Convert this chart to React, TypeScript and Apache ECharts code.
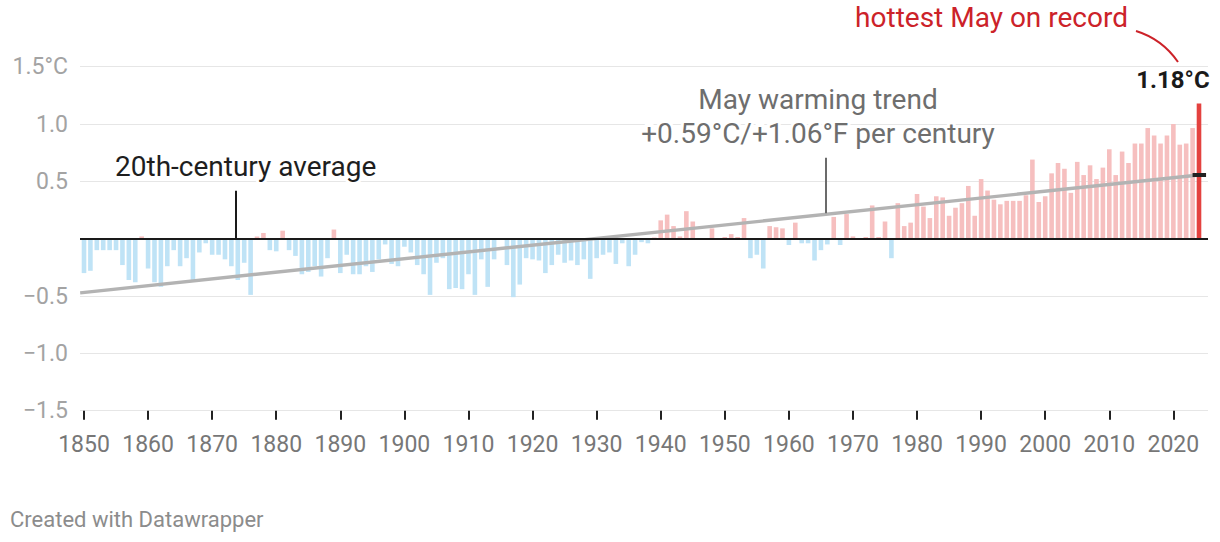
import React, { useEffect, useRef } from "react";
import * as echarts from "echarts";

// May temperature anomaly (°C vs 20th-century average), 1850–2024
const START_YEAR = 1850;
const anomalies: number[] = [
  // 1850s
  -0.30, -0.28, -0.10, -0.10, -0.10, -0.10, -0.23, -0.36, -0.38, 0.02,
  // 1860s
  -0.26, -0.38, -0.42, -0.24, -0.10, -0.24, -0.17, -0.36, -0.12, -0.04,
  // 1870s
  -0.14, -0.14, -0.18, -0.24, -0.36, -0.21, -0.49, 0.02, 0.05, -0.10,
  // 1880s
  -0.11, 0.07, -0.10, -0.15, -0.31, -0.29, -0.24, -0.33, -0.17, 0.08,
  // 1890s
  -0.30, -0.14, -0.31, -0.31, -0.24, -0.29, -0.18, -0.05, -0.22, -0.24,
  // 1900s
  -0.07, -0.12, -0.23, -0.31, -0.49, -0.21, -0.17, -0.44, -0.43, -0.44,
  // 1910s
  -0.31, -0.49, -0.18, -0.42, -0.18, -0.01, -0.23, -0.51, -0.40, -0.17,
  // 1920s
  -0.18, -0.19, -0.30, -0.23, -0.14, -0.21, -0.19, -0.23, -0.18, -0.35,
  // 1930s
  -0.17, -0.14, -0.12, -0.22, -0.04, -0.24, -0.14, -0.03, -0.04, 0.01,
  // 1940s
  0.16, 0.21, 0.11, 0.02, 0.24, 0.15, -0.01, 0.0, 0.09, 0.0,
  // 1950s
  0.015, 0.04, 0.015, 0.18, -0.17, -0.14, -0.26, 0.11, 0.10, 0.09,
  // 1960s
  -0.055, 0.14, -0.04, -0.04, -0.19, -0.10, -0.05, 0.19, -0.055, 0.215,
  // 1970s
  0.02, 0.0, 0.015, 0.29, 0.015, 0.15, -0.17, 0.31, 0.11, 0.14,
  // 1980s
  0.39, 0.28, 0.18, 0.37, 0.36, 0.20, 0.27, 0.31, 0.46, 0.20,
  // 1990s
  0.52, 0.42, 0.34, 0.30, 0.33, 0.33, 0.33, 0.38, 0.69, 0.32,
  // 2000s
  0.37, 0.57, 0.66, 0.61, 0.40, 0.67, 0.555, 0.64, 0.52, 0.62,
  // 2010s
  0.78, 0.555, 0.76, 0.66, 0.83, 0.83, 0.965, 0.90, 0.83, 0.90,
  // 2020s
  1.00, 0.82, 0.83, 0.965, 1.18,
];
const years: number[] = anomalies.map((_, i) => START_YEAR + i);

// Linear trend (+0.59°C per century), endpoints
const trendYears = [1849.4, 2024];
const trendValues = [-0.472, 0.555];
const trendEndMarkYears = [2023.0, 2025.1];

const xTickYears = [1850, 1860, 1870, 1880, 1890, 1900, 1910, 1920, 1930, 1940, 1950, 1960, 1970, 1980, 1990, 2000, 2010, 2020];
const yTickValues = [1.5, 1.0, 0.5, 0, -0.5, -1.0, -1.5];
const yTickLabels = ["1.5°C", "1.0", "0.5", "", "−0.5", "−1.0", "−1.5"];

const COLD = "#bfe3f6";
const WARM = "#f6bfbf";
const RECORD = "#e4423f";

export default function App() {
  const ref = useRef<HTMLDivElement>(null);
  useEffect(() => {
    if (!ref.current) return;
    const chart = echarts.init(ref.current, null, { renderer: "svg" });
    const last = anomalies.length - 1;
    const barData = years.map((y, i) =>
      i === last
        ? {
            value: [y, anomalies[i]],
            label: {
              show: true,
              position: "top",
              offset: [-26, -6],
              formatter: () => `${anomalies[i].toFixed(2)}°C`,
              fontSize: 24,
              fontWeight: "bold",
              color: "#1a1a1a",
              fontFamily: "Roboto",
            },
          }
        : [y, anomalies[i]]
    );
    const option: any = {
      animation: false,
      textStyle: { fontFamily: "Roboto" },
      grid: { left: 80, right: 12, top: 66.7, bottom: 131.3, containLabel: false },
      xAxis: {
        type: "value",
        min: 1849.376,
        max: 2025.404,
        axisLine: { show: false, onZero: false },
        splitLine: { show: false },
        axisTick: {
          show: true,
          customValues: xTickYears,
          length: 9,
          lineStyle: { color: "#222", width: 2 },
        },
        axisLabel: {
          customValues: xTickYears,
          color: "#777",
          fontSize: 23,
          margin: 22,
          formatter: (v: number) => String(v),
        },
      },
      yAxis: {
        type: "value",
        min: -1.5,
        max: 1.5,
        interval: 0.5,
        axisLine: { show: false },
        axisTick: { show: false },
        splitLine: { lineStyle: { color: "#e6e6e6", width: 1 } },
        axisLabel: {
          color: "#a3a3a3",
          fontSize: 23,
          margin: 12,
          formatter: (v: number) => {
            const idx = yTickValues.findIndex((t) => Math.abs(t - v) < 1e-6);
            return idx >= 0 ? yTickLabels[idx] : "";
          },
        },
      },
      series: [
        {
          type: "bar",
          data: barData,
          barWidth: 4.6,
          z: 2,
          itemStyle: {
            color: (p: any) =>
              p.dataIndex === last ? RECORD : p.value[1] >= 0 ? WARM : COLD,
          },
        },
        {
          type: "line",
          data: trendYears.map((y, i) => [y, trendValues[i]]),
          symbol: "none",
          lineStyle: { color: "#b3b3b3", width: 3.4 },
          z: 3,
          silent: true,
        },
        {
          type: "line",
          data: trendEndMarkYears.map((y) => [y, trendValues[1]]),
          symbol: "none",
          lineStyle: { color: "#222", width: 4 },
          z: 4,
          silent: true,
          markLine: {
            silent: true,
            symbol: "none",
            label: { show: false },
            data: [
              { yAxis: 0, lineStyle: { color: "#1a1a1a", width: 2, type: "solid" } },
              [
                { coord: [1873.7, 0], lineStyle: { color: "#1a1a1a", width: 2, type: "solid" } },
                { coord: [1873.7, 0.418] },
              ],
              [
                { coord: [1965.8, 0.222], lineStyle: { color: "#6b6b6b", width: 2, type: "solid" } },
                { coord: [1965.8, 0.705] },
              ],
            ],
          },
        },
      ],
      graphic: [
        {
          type: "text",
          z: 100,
          style: {
            x: 115,
            y: 166,
            text: "20th-century average",
            fill: "#1e1e1e",
            fontSize: 28,
            fontFamily: "Roboto",
            align: "left",
            verticalAlign: "middle",
            stroke: "#fff",
            lineWidth: 6,
          },
        },
        {
          type: "text",
          z: 100,
          style: {
            x: 818,
            y: 116,
            text: "May warming trend\n+0.59°C/+1.06°F per century",
            fill: "#6e6e6e",
            fontSize: 28,
            lineHeight: 34,
            fontFamily: "Roboto",
            align: "center",
            verticalAlign: "middle",
            stroke: "#fff",
            lineWidth: 6,
          },
        },
        {
          type: "text",
          z: 100,
          style: {
            x: 1128,
            y: 17,
            text: "hottest May on record",
            fill: "#cc2229",
            fontSize: 28,
            fontFamily: "Roboto",
            align: "right",
            verticalAlign: "middle",
          },
        },
        {
          type: "bezierCurve",
          z: 100,
          shape: { x1: 1136, y1: 31, cpx1: 1162, cpy1: 39, x2: 1178, y2: 62 },
          style: { stroke: "#cc2229", lineWidth: 2, fill: "none" },
        },
        {
          type: "text",
          z: 100,
          style: {
            x: 10,
            y: 519,
            text: "Created with Datawrapper",
            fill: "#8c8c8c",
            fontSize: 22,
            fontFamily: "Roboto",
            align: "left",
            verticalAlign: "middle",
          },
        },
      ],
    };
    chart.setOption(option);
    return () => chart.dispose();
  }, []);
  return (
    <div
      ref={ref}
      style={{ position: "absolute", left: 0, top: 0, width: 1220, height: 542 }}
    />
  );
}
